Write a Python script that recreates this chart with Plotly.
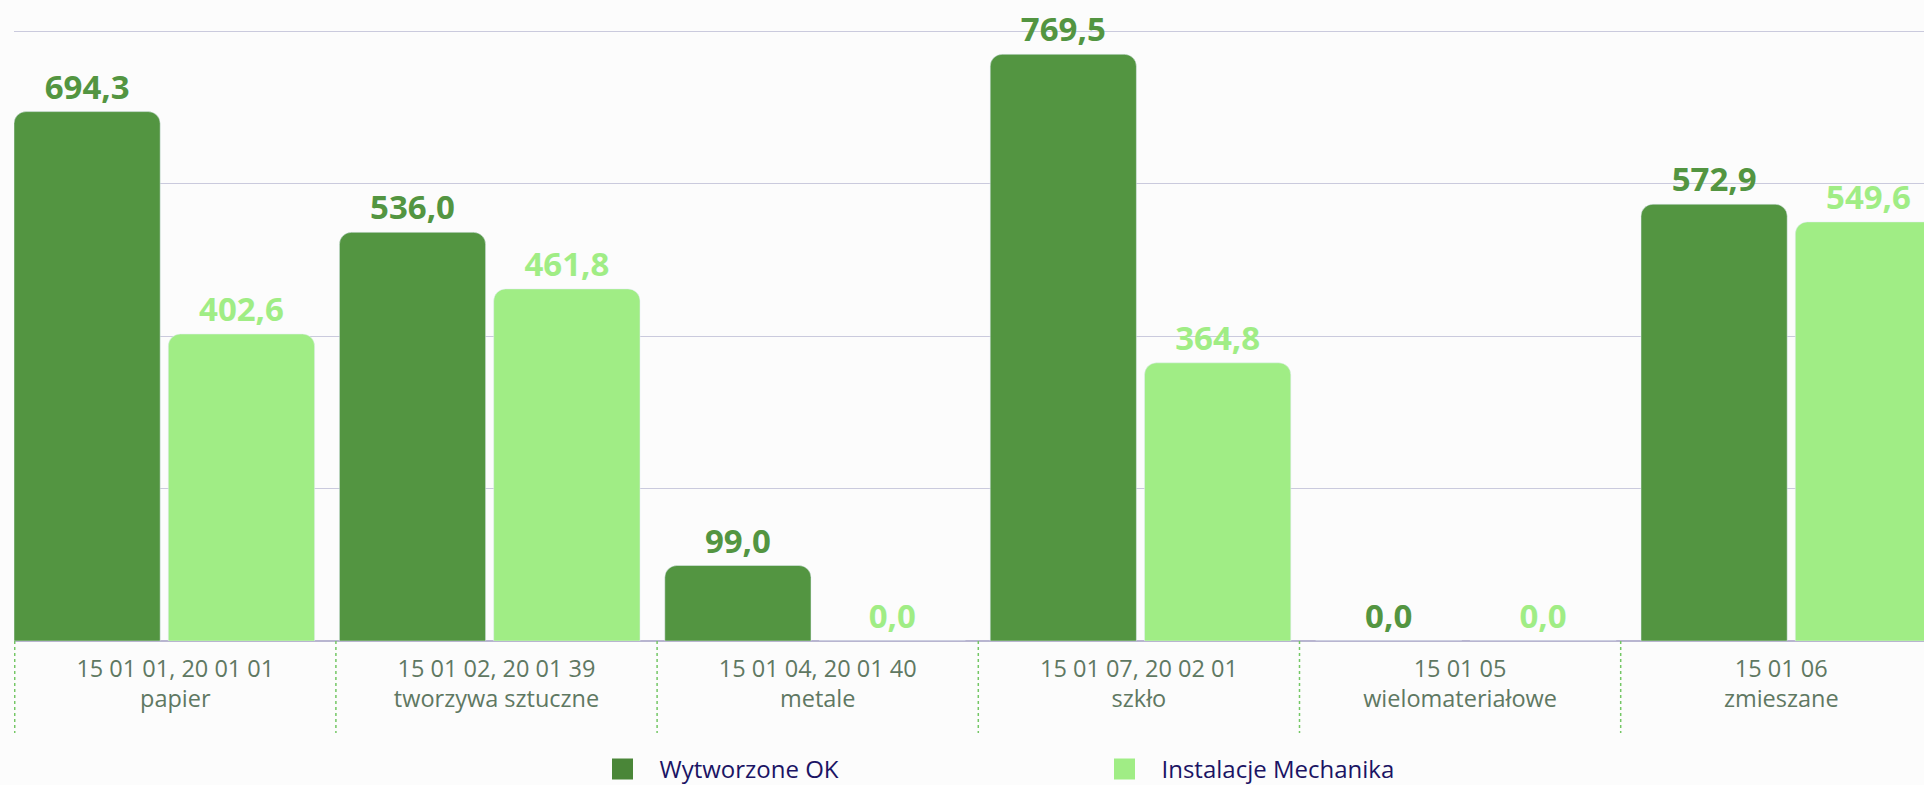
import plotly.graph_objects as go

codes = ["15 01 01, 20 01 01", "15 01 02, 20 01 39", "15 01 04, 20 01 40",
         "15 01 07, 20 02 01", "15 01 05", "15 01 06"]
names = ["papier", "tworzywa sztuczne", "metale", "szkło", "wielomateriałowe", "zmieszane"]
wytworzone = [694.3, 536.0, 99.0, 769.5, 0.0, 572.9]
instalacje = [402.6, 461.8, 0.0, 364.8, 0.0, 549.6]
series_names = ["Wytworzone OK", "Instalacje Mechanika"]

DARK = "#539541"
LIGHT = "#a0ed85"
LEG_DARK = "#4a8638"
TICK_COL = "#5f7862"
BG = "#fcfcfc"

pos = list(range(len(codes)))

fig = go.Figure()
fig.add_trace(go.Bar(
    x=pos, y=wytworzone, name=series_names[0], marker_color=DARK,
    offset=-0.5, width=0.4493, showlegend=False,
    texttemplate="%{y:.1f}", textposition="outside", cliponaxis=False,
    textfont=dict(family="Open Sans", size=33, color=DARK, weight="bold"),
))
fig.add_trace(go.Bar(
    x=pos, y=instalacje, name=series_names[1], marker_color=LIGHT,
    offset=-0.0258, width=0.4496, showlegend=False,
    texttemplate="%{y:.1f}", textposition="outside", cliponaxis=False,
    textfont=dict(family="Open Sans", size=33, color=LIGHT, weight="bold"),
))
# legend entries
for nm, col in zip(series_names, [LEG_DARK, LIGHT]):
    fig.add_trace(go.Scatter(
        x=[None], y=[None], mode="markers", name=nm,
        marker=dict(symbol="square", size=16, color=col, line=dict(width=5, color=col)),
        hoverinfo="skip",
    ))
# dummy trace on label axis
fig.add_trace(go.Scatter(x=[None], y=[None], xaxis="x2", showlegend=False, hoverinfo="skip"))

PLOT_H = 615
shapes = []
for k in range(len(codes)):
    shapes.append(dict(type="line", xref="x2", yref="paper", x0=k - 0.5, x1=k - 0.5,
                       y0=0, y1=-92 / PLOT_H, line=dict(color="#74c765", width=1.5, dash="dot")))

fig.update_layout(
    width=1924, height=785,
    margin=dict(l=14, r=0, t=26, b=144, autoexpand=False),
    paper_bgcolor=BG, plot_bgcolor=BG,
    barmode="overlay", barcornerradius=12,
    separators=", ",
    font=dict(family="Open Sans"),
    shapes=shapes,
    xaxis=dict(range=[-0.5, 5.3697], showticklabels=False, showgrid=False,
               zeroline=False, ticks="", fixedrange=True),
    xaxis2=dict(overlaying="x", anchor="y", side="bottom", range=[-0.5022, 5.4443],
                tickvals=pos, ticktext=[c + "<br>" + n for c, n in zip(codes, names)],
                tickfont=dict(family="Open Sans", size=23.5, color=TICK_COL),
                ticklabelstandoff=11,
                showgrid=False, zeroline=False, ticks=""),
    yaxis=dict(range=[0, 800 * PLOT_H / 610], tickvals=[0, 200, 400, 600, 800],
               showticklabels=False, gridcolor="#cacadd", gridwidth=1, zeroline=True,
               zerolinecolor="#b8b5d0", zerolinewidth=2, ticks=""),
    legend=dict(orientation="h", x=(585.5 - 14) / 1910, xanchor="left",
                y=(641 - 747) / PLOT_H, yanchor="top",
                font=dict(family="Open Sans", size=24, color="#1b1464"),
                itemwidth=64, entrywidth=423, entrywidthmode="pixels",
                bgcolor="rgba(0,0,0,0)"),
)

fig.write_html("out.html", config={"displayModeBar": False},
               post_script="document.body.style.margin='0';document.body.style.overflow='hidden';")
